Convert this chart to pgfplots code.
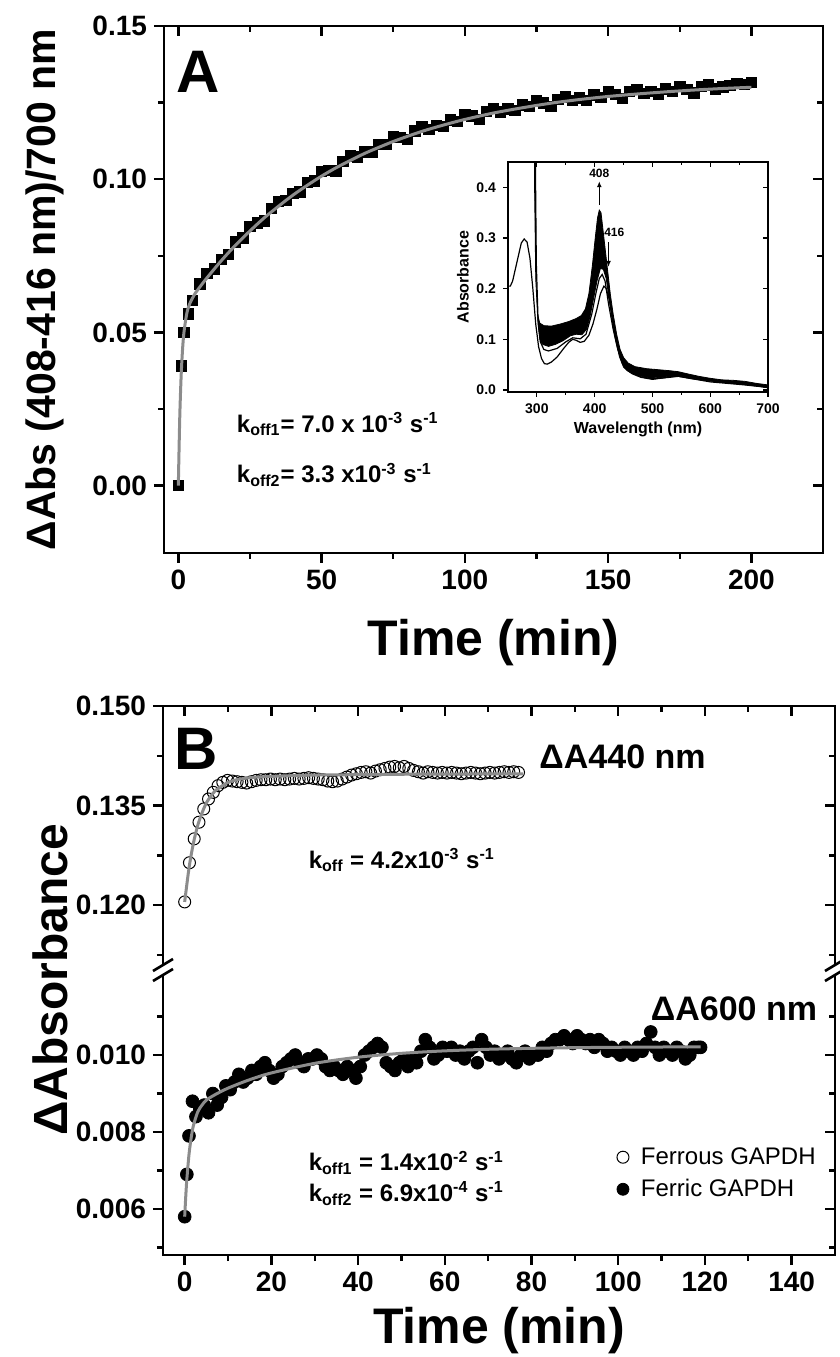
\documentclass[border=0pt]{standalone}
\usepackage{fontspec}
\setmainfont{Liberation Sans}
\usepackage{pgfplots}
\pgfplotsset{compat=1.18}
\usetikzlibrary{arrows.meta}
\definecolor{fitgray}{RGB}{140,140,140}
\newcommand\fs[1]{\fontsize{#1}{#1}\selectfont}
\pgfplotsset{
  base/.style={
    scale only axis, anchor=south west,
    tick style={line width=1.2pt, black},
    major tick length=5pt, minor tick length=3pt,
    tick label style={font=\fs{14}\bfseries},
    /pgf/number format/assume math mode=true,
    scaled x ticks=false, scaled y ticks=false,
    clip=false,
  },
  Abox/.style={base, at={(82pt,402pt)}, width=329.5pt, height=263.5pt,
    xmin=-5, xmax=225, ymin=-0.022, ymax=0.15,
    xtick={0,50,100,150,200}, minor x tick num=1,
    ytick={0,0.05,0.10,0.15}, minor ytick={0.025,0.075,0.125},
    yticklabel style={/pgf/number format/.cd, fixed, fixed zerofill, precision=2}},
  Bx/.style={base, width=336pt, xmin=-5, xmax=150,
    xtick={0,20,...,140}, minor x tick num=1},
  Bup/.style={Bx, at={(81.5pt,196pt)}, height=129.5pt, ymin=0.1110, ymax=0.150,
    ytick={0.120,0.135,0.150}, minor ytick={0.1125,0.1275,0.1425},
    yticklabel style={/pgf/number format/.cd, fixed, fixed zerofill, precision=3}},
  Blo/.style={Bx, at={(81.5pt,51pt)}, height=140pt, ymin=0.004805, ymax=0.01208,
    ytick={0.006,0.008,0.010}, minor ytick={0.005,0.007,0.009,0.011},
    yticklabel style={/pgf/number format/.cd, fixed, fixed zerofill, precision=3}},
  Inset/.style={scale only axis, anchor=south west, at={(254pt,482.5pt)}, width=130pt, height=115pt,
    xmin=250, xmax=700, ymin=-0.004, ymax=0.45,
    xtick={300,400,500,600,700}, minor x tick num=1, ytick={0,0.1,0.2,0.3,0.4},
    tick style={line width=0.6pt, black}, major tick length=2.5pt, minor tick length=1.5pt,
    tick label style={font=\fs{7}\bfseries},
    /pgf/number format/assume math mode=true, scaled y ticks=false,
    yticklabel style={/pgf/number format/.cd, fixed, fixed zerofill, precision=1},
    axis line style={line width=0.6pt}},
}
\begin{document}
\begin{tikzpicture}
\path[use as bounding box] (0,0) rectangle (420pt,678.5pt);
% ---------------- Panel A ----------------
\begin{axis}[Abox, xtick pos=left, ytick pos=left, tick align=outside,
  axis line style={line width=1.3pt},
  xlabel={Time (min)}, ylabel={ΔAbs (408-416 nm)/700 nm},
  xlabel style={font=\fs{25}\bfseries, at={(axis description cs:0.5,-0.17)}, anchor=center},
  ylabel style={font=\fs{20.5}\bfseries, at={(axis description cs:-0.18,0.5)}, anchor=center}]
\addplot[only marks, mark=square*, mark size=2.6pt, black] coordinates {
(0,0.000) (1,0.039) (2,0.050) (3.5,0.056) (5,0.0605) (7.5,0.0658) (10,0.0693) (12.5,0.0707) (15,0.0739) (17.5,0.0755) (20,0.0795) (22.5,0.0809) (25,0.0846) (27.5,0.0858) (30,0.0864) (32.5,0.0904) (35,0.0927) (37.5,0.0931) (40,0.0953) (42.5,0.0959) (45,0.0990) (47.5,0.0995) (50,0.1025) (52.5,0.1029) (55,0.1027) (57.5,0.1059) (60,0.1076) (62.5,0.1073) (65,0.1089) (67.5,0.1089) (70,0.1114) (72.5,0.1114) (75,0.1138) (77.5,0.1137) (80,0.1130) (82.5,0.1158) (85,0.1171) (87.5,0.1163) (90,0.1175) (92.5,0.1172) (95,0.1193) (97.5,0.1189) (100,0.1210) (102.5,0.1206) (105,0.1196) (107.5,0.1221) (110,0.1231) (112.5,0.1220) (115,0.1230) (117.5,0.1224) (120,0.1243) (122.5,0.1237) (125,0.1256) (127.5,0.1249) (130,0.1238) (132.5,0.1261) (135,0.1269) (137.5,0.1257) (140,0.1265) (142.5,0.1257) (145,0.1275) (147.5,0.1267) (150,0.1285) (152.5,0.1277) (155,0.1264) (157.5,0.1286) (160,0.1293) (162.5,0.1280) (165,0.1287) (167.5,0.1278) (170,0.1295) (172.5,0.1287) (175,0.1303) (177.5,0.1294) (180,0.1281) (182.5,0.1302) (185,0.1308) (187.5,0.1295) (190,0.1301) (192.5,0.1307) (195,0.1313) (197.5,0.1309) (200,0.1315)};
\node[font=\fs{30}\bfseries] at (axis cs:7,0.135) {A};
\node[font=\fs{12}\bfseries, anchor=west] at (axis cs:18,0.0200) {k\textsubscript{off1}= 7.0 x 10\textsuperscript{-3} s\textsuperscript{-1}};
\node[font=\fs{12}\bfseries, anchor=west] at (axis cs:18,0.0035) {k\textsubscript{off2}= 3.3 x10\textsuperscript{-3} s\textsuperscript{-1}};
\end{axis}
\begin{axis}[Abox, xtick pos=right, ytick pos=right, tick align=inside,
  xticklabels={}, yticklabels={}, axis line style={draw=none}]
\addplot[fitgray, line width=1.5pt, smooth] coordinates {
(0,0) (0.5,0.0223) (1,0.0362) (1.5,0.0448) (2,0.0503) (3,0.0564) (4,0.0594) (5,0.0613) (6,0.0629) (7.5,0.0648) (10,0.0678) (15,0.0734) (20,0.0785) (25,0.0831) (30,0.0874) (35,0.0912) (40,0.0948) (45,0.0980) (50,0.1010) (55,0.1037) (60,0.1061) (65,0.1084) (70,0.1104) (75,0.1123) (80,0.1140) (85,0.1156) (90,0.1170) (95,0.1183) (100,0.1195) (110,0.1216) (120,0.1233) (130,0.1248) (140,0.1260) (150,0.1270) (160,0.1278) (170,0.1285) (180,0.1291) (190,0.1296) (200,0.1300)};
\end{axis}
% ---------------- Inset ----------------
\begin{axis}[Inset, xtick pos=left, ytick pos=left, tick align=outside,
  clip mode=individual, axis background/.style={fill=white},
  xlabel={Wavelength (nm)}, ylabel={Absorbance},
  xlabel style={font=\fs{8}\bfseries, yshift=3pt},
  ylabel style={font=\fs{8}\bfseries, yshift=-3pt}]
\addplot[fill=black, draw=black, line width=0.4pt] coordinates {
(295,0.6) (296,0.40) (298,0.22) (301,0.15) (305,0.132) (312,0.127) (325,0.126) (340,0.13) (355,0.135) (368,0.141) (377,0.147) (384,0.16) (390,0.19) (396,0.245) (401,0.30) (405,0.34) (408,0.355) (411,0.35) (414,0.32) (418,0.28) (422,0.24) (427,0.19) (432,0.15) (438,0.11) (444,0.08) (450,0.064) (458,0.053) (470,0.046) (490,0.042) (510,0.040) (530,0.038) (545,0.036) (560,0.032) (580,0.027) (600,0.023) (620,0.020) (640,0.019) (660,0.017) (680,0.013) (700,0.010)
(700,0.004) (680,0.008) (650,0.012) (620,0.015) (600,0.018) (570,0.023) (545,0.028) (530,0.027) (510,0.024) (490,0.025) (470,0.03) (458,0.037) (450,0.045) (443,0.065) (436,0.1) (430,0.14) (425,0.18) (420,0.22) (415,0.238) (410,0.24) (404,0.215) (398,0.18) (392,0.145) (386,0.12) (378,0.109) (368,0.11) (358,0.107) (345,0.097) (332,0.09) (320,0.086) (310,0.09) (305,0.1) (302,0.13) (299,0.2) (297,0.4) (296.5,0.6)} --cycle;
\addplot[black, line width=0.6pt] coordinates {
(297,0.5) (299,0.25) (302,0.14) (306,0.095) (312,0.08) (320,0.077) (335,0.082) (350,0.095) (362,0.103) (375,0.101) (385,0.11) (395,0.15) (402,0.19) (408,0.22) (413,0.228) (418,0.215) (424,0.17) (432,0.12) (440,0.08) (450,0.05) (460,0.037) (480,0.026) (500,0.022) (530,0.025) (545,0.027) (570,0.022) (600,0.018) (650,0.012) (700,0.006)};
\addplot[black, line width=0.6pt] coordinates {
(250,0.205) (254,0.205) (258,0.215) (262,0.235) (268,0.265) (273,0.29) (278,0.298) (283,0.292) (288,0.26) (293,0.2) (298,0.13) (303,0.085) (308,0.062) (313,0.052) (318,0.051) (325,0.055) (335,0.065) (345,0.08) (355,0.094) (362,0.1) (368,0.098) (375,0.094) (382,0.096) (390,0.108) (397,0.13) (404,0.16) (410,0.19) (416,0.205) (420,0.2) (425,0.18) (430,0.15) (436,0.11) (442,0.075) (448,0.052) (455,0.04) (465,0.032) (480,0.025) (500,0.021) (520,0.024) (540,0.028) (560,0.024) (580,0.02) (600,0.016) (630,0.013) (660,0.01) (700,0.005)};
\draw[-{Latex[length=3pt,width=2.5pt]}, line width=0.6pt] (axis cs:408,0.365) -- (axis cs:408,0.412);
\node[font=\fs{6}\bfseries] at (axis cs:408,0.428) {408};
\draw[-{Latex[length=3pt,width=2.5pt]}, line width=0.6pt] (axis cs:424,0.292) -- (axis cs:424,0.243);
\node[font=\fs{6}\bfseries] at (axis cs:434,0.312) {416};
\end{axis}
\begin{axis}[Inset, xtick pos=right, ytick pos=right, tick align=inside,
  xticklabels={}, yticklabels={}, axis line style={draw=none}]
\end{axis}
% ---------------- Panel B upper ----------------
\begin{axis}[Bup, ytick pos=left, xtick=\empty, tick align=outside, axis line style={draw=none}]
\draw[line width=1.3pt] (rel axis cs:0,0) -- (rel axis cs:0,1) -- (rel axis cs:1,1) -- (rel axis cs:1,0);
\addplot[only marks, mark=o, mark size=3pt, mark options={fill=white, line width=0.5pt}, black] coordinates {
(0,0.1205) (1.1,0.1264) (2.2,0.1300) (3.3,0.1325) (4.4,0.1345) (5.5,0.1360) (6.6,0.1370) (7.7,0.1380) (8.8,0.1385) (9.9,0.1388) (11.0,0.1387) (12.1,0.1386) (13.2,0.1385) (14.3,0.1384) (15.4,0.1386) (16.5,0.1388) (17.6,0.1389) (18.7,0.1389) (19.8,0.1390) (20.9,0.1389) (22.0,0.1390) (23.1,0.1389) (24.2,0.1390) (25.3,0.1391) (26.4,0.1390) (27.5,0.1391) (28.6,0.1392) (29.7,0.1391) (30.8,0.1390) (31.9,0.1389) (33.0,0.1387) (34.1,0.1386) (35.2,0.1387) (36.3,0.1390) (37.4,0.1393) (38.5,0.1396) (39.6,0.1398) (40.7,0.1400) (41.8,0.1401) (42.9,0.1399) (44.0,0.1402) (45.1,0.1404) (46.2,0.1406) (47.3,0.1408) (48.4,0.1409) (49.5,0.1407) (50.6,0.1409) (51.7,0.1406) (52.8,0.1403) (53.9,0.1401) (55.0,0.1399) (56.1,0.1401) (57.2,0.1400) (58.3,0.1399) (59.4,0.1400) (60.5,0.1399) (61.6,0.1400) (62.7,0.1399) (63.8,0.1398) (64.9,0.1399) (66.0,0.1400) (67.1,0.1399) (68.2,0.1398) (69.3,0.1399) (70.4,0.1400) (71.5,0.1399) (72.6,0.1400) (73.7,0.1401) (74.8,0.1400) (75.9,0.1401) (77.0,0.1400)};
\node[font=\fs{30}\bfseries] at (axis cs:2.6,0.1436) {B};
\node[font=\fs{17}\bfseries] at (axis cs:101,0.1423) {ΔA440 nm};
\node[font=\fs{12}\bfseries, anchor=west] at (axis cs:27,0.1268) {k\textsubscript{off} = 4.2x10\textsuperscript{-3} s\textsuperscript{-1}};
\end{axis}
\begin{axis}[Bup, xtick pos=right, ytick pos=right, tick align=inside,
  xticklabels={}, yticklabels={}, axis line style={draw=none}]
\addplot[fitgray, line width=1.5pt, smooth] coordinates {
(0,0.1205) (1,0.1256) (2,0.1293) (3,0.1320) (4,0.1339) (5,0.1354) (6,0.1364) (7,0.1372) (8,0.1377) (10,0.1385) (12,0.1389) (15,0.1392) (20,0.1394) (30,0.1396) (40,0.13966) (50,0.13972) (60,0.13975) (78,0.13978)};
\end{axis}
% ---------------- Panel B lower ----------------
\begin{axis}[Blo, xtick pos=left, ytick pos=left, tick align=outside, axis line style={draw=none},
  xlabel={Time (min)},
  xlabel style={font=\fs{25}\bfseries, at={(axis description cs:0.5,-0.271)}, anchor=center},
  legend style={at={(axis description cs:0.672,0.2914)}, anchor=west, draw=none, fill=none,
    font=\fs{12}, row sep=2pt, inner sep=1pt},
  legend cell align=left]
\draw[line width=1.3pt] (rel axis cs:0,1) -- (rel axis cs:0,0) -- (rel axis cs:1,0) -- (rel axis cs:1,1);
\addlegendimage{only marks, mark=o, mark size=3pt, mark options={fill=white, line width=0.5pt}, black}
\addlegendentry{\hspace{4pt}Ferrous GAPDH}
\addlegendimage{only marks, mark=*, mark size=3pt, black}
\addlegendentry{\hspace{4pt}Ferric GAPDH}
\addplot[only marks, mark=*, mark size=3.2pt, black, forget plot] coordinates {
(0,0.0058) (0.5,0.0069) (1.0,0.0079) (1.8,0.0088) (2.6,0.0084) (3.5,0.0086) (4.5,0.0087) (5.5,0.0085) (6.5,0.0090) (7.5,0.0087) (8.5,0.0089) (9.5,0.0092) (10.5,0.0091) (11.5,0.0093) (12.5,0.0095) (13.5,0.0093) (14.5,0.0094) (15.5,0.0096) (16.5,0.0095) (17.5,0.0097) (18.5,0.0098) (19.5,0.0096) (20.5,0.0094) (21.5,0.0095) (22.5,0.0097) (23.5,0.0098) (24.5,0.0099) (25.5,0.0100) (26.5,0.0098) (27.5,0.0097) (28.5,0.0099) (29.5,0.0099) (30.5,0.0100) (31.5,0.0099) (32.5,0.0097) (33.5,0.0096) (34.5,0.0097) (35.5,0.0096) (36.5,0.0095) (37.5,0.0097) (38.5,0.0096) (39.5,0.0094) (40.5,0.0097) (41.5,0.0100) (42.5,0.0101) (43.5,0.0102) (44.5,0.0103) (45.5,0.0102) (46.5,0.0098) (47.5,0.0097) (48.5,0.0096) (49.5,0.0098) (50.5,0.0099) (51.5,0.0097) (52.5,0.0099) (53.5,0.0098) (54.5,0.0101) (55.5,0.0104) (56.5,0.0102) (57.5,0.0099) (58.5,0.0100) (59.5,0.0102) (60.5,0.0101) (61.5,0.0102) (62.5,0.0100) (63.5,0.0101) (64.5,0.0099) (65.5,0.0101) (66.5,0.0102) (67.5,0.0098) (68.5,0.0104) (69.5,0.0102) (70.5,0.0100) (71.5,0.0101) (72.5,0.0099) (73.5,0.0100) (74.5,0.0101) (75.5,0.0099) (76.5,0.0098) (77.5,0.0100) (78.5,0.0101) (79.5,0.0099) (80.5,0.0100) (81.5,0.0100) (82.5,0.0102) (83.5,0.0101) (84.5,0.0103) (85.5,0.0104) (86.5,0.0104) (87.5,0.0105) (88.5,0.0104) (89.5,0.0103) (90.5,0.0105) (91.5,0.0104) (92.5,0.0103) (93.5,0.0104) (94.5,0.0102) (95.5,0.0104) (96.5,0.0103) (97.5,0.0101) (98.5,0.0102) (99.5,0.0101) (100.5,0.0100) (101.5,0.0102) (102.5,0.0101) (103.5,0.0100) (104.5,0.0102) (105.5,0.0101) (106.5,0.0103) (107.5,0.0106) (108.5,0.0102) (109.5,0.0100) (110.5,0.0102) (111.5,0.0101) (112.5,0.0100) (113.5,0.0102) (114.5,0.0101) (115.5,0.0099) (116.5,0.0100) (117.5,0.0102) (118.5,0.0102) (119,0.0102)};
\node[font=\fs{17}\bfseries, anchor=east] at (axis cs:147.5,0.0112) {ΔA600 nm};
\node[font=\fs{12}\bfseries, anchor=west] at (axis cs:27,0.0072) {k\textsubscript{off1} = 1.4x10\textsuperscript{-2} s\textsuperscript{-1}};
\node[font=\fs{12}\bfseries, anchor=west] at (axis cs:27,0.0064) {k\textsubscript{off2} = 6.9x10\textsuperscript{-4} s\textsuperscript{-1}};
\end{axis}
\begin{axis}[Blo, xtick=\empty, ytick pos=right, tick align=inside,
  yticklabels={}, axis line style={draw=none}]
\addplot[fitgray, line width=1.5pt, smooth] coordinates {
(0,0.0058) (0.25,0.00633) (0.5,0.00677) (1,0.00742) (1.5,0.00785) (2,0.00816) (3,0.00852) (4,0.0087) (5,0.00883) (7,0.00897) (10,0.00914) (15,0.00936) (20,0.009535) (30,0.009785) (40,0.009944) (50,0.010045) (60,0.010109) (70,0.01015) (80,0.010175) (90,0.010192) (100,0.010202) (110,0.010209) (119,0.010212)};
\end{axis}
% axis break marks
\draw[line width=1.3pt] (76.5pt,193pt) -- (86.5pt,199pt);
\draw[line width=1.3pt] (76.5pt,188pt) -- (86.5pt,194pt);
\draw[line width=1.3pt] (412.5pt,193pt) -- (422.5pt,199pt);
\draw[line width=1.3pt] (412.5pt,188pt) -- (422.5pt,194pt);
\node[font=\fs{24}\bfseries, rotate=90] at (25pt,188.5pt) {ΔAbsorbance};
\end{tikzpicture}
\end{document}
